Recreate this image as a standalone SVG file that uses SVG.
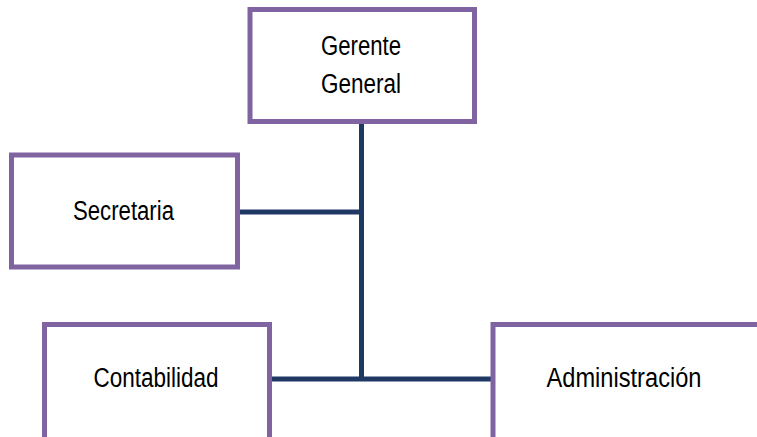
<svg xmlns="http://www.w3.org/2000/svg" width="757" height="437" viewBox="0 0 757 437">
<style>
.box{fill:#ffffff;stroke:#8064a2;stroke-width:5}
.lbl{font-family:"Liberation Sans",Arial,sans-serif;font-size:27px;fill:#000000;text-anchor:middle}
.con{stroke:#1f3864;stroke-width:5;fill:none}
</style>
<rect width="757" height="437" fill="#ffffff"/>
<g id="connectors">
<line class="con" x1="361.5" y1="122" x2="361.5" y2="381"/>
<line class="con" x1="238" y1="212" x2="361.5" y2="212"/>
<line class="con" x1="270" y1="379" x2="493" y2="379"/>
</g>
<g id="gerente">
<rect class="box" x="250" y="9.5" width="224.5" height="112"/>
<text class="lbl" x="361" y="55" textLength="80" lengthAdjust="spacingAndGlyphs">Gerente</text>
<text class="lbl" x="361" y="93" textLength="80" lengthAdjust="spacingAndGlyphs">General</text>
</g>
<g id="secretaria">
<rect class="box" x="11.5" y="155" width="226" height="112"/>
<text class="lbl" x="123.5" y="220" textLength="101" lengthAdjust="spacingAndGlyphs">Secretaria</text>
</g>
<g id="contabilidad">
<rect class="box" x="44.5" y="324.5" width="225" height="120"/>
<text class="lbl" x="156" y="387" textLength="125" lengthAdjust="spacingAndGlyphs">Contabilidad</text>
</g>
<g id="administracion">
<rect class="box" x="493" y="324.5" width="280" height="120"/>
<text class="lbl" x="624" y="387" textLength="155" lengthAdjust="spacingAndGlyphs">Administración</text>
</g>
</svg>
